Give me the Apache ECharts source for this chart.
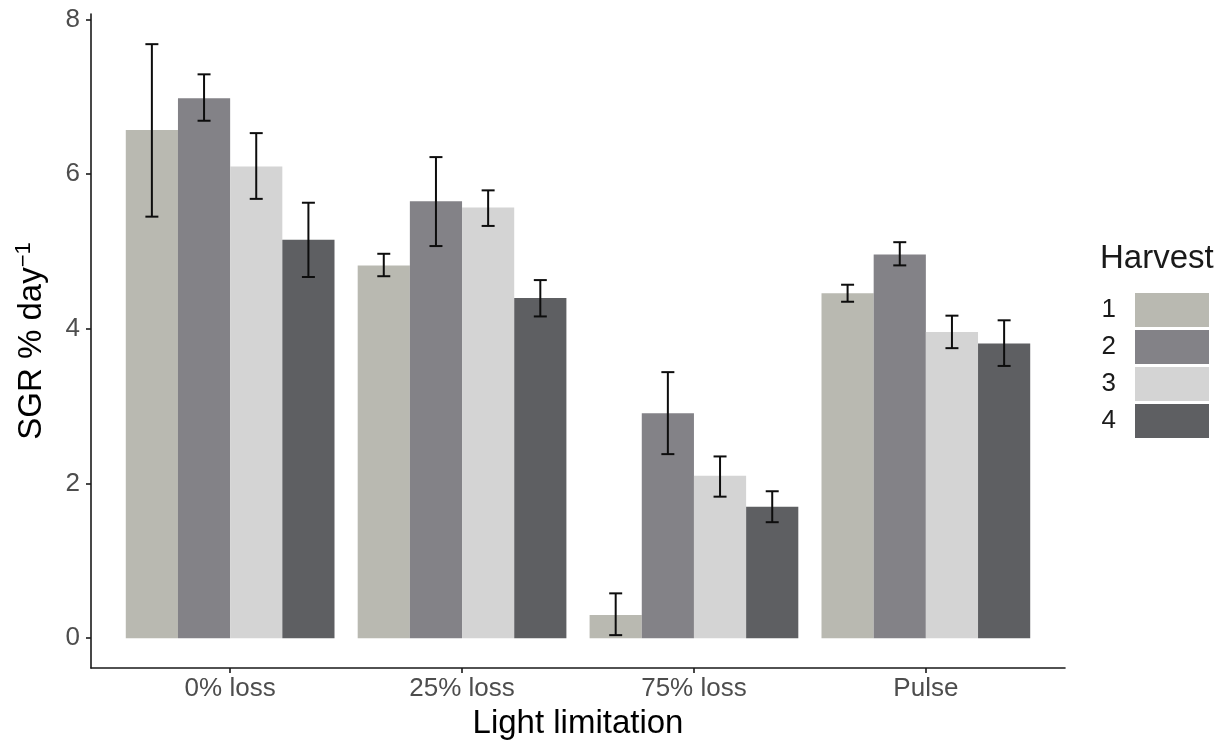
<!DOCTYPE html>
<html>
<head>
<meta charset="utf-8">
<script src="https://cdn.jsdelivr.net/npm/echarts@6/dist/echarts.min.js"></script>
<style>
  html, body { margin: 0; padding: 0; background: #ffffff; }
  #chart { width: 1231px; height: 747px; }
</style>
</head>
<body>
<div id="chart"></div>
<script>
// Light limitation treatments (x axis) and harvest groups (fill)
const categories = ['0% loss', '25% loss', '75% loss', 'Pulse'];
const harvests = ['1', '2', '3', '4'];
const harvestColors = ['#b9b9b1', '#838287', '#d4d4d4', '#5e5f62'];

// Mean specific growth rate (% day^-1), one row per harvest, one value per treatment
const sgrMean = [
  [6.57, 4.82, 0.30, 4.46],
  [6.98, 5.65, 2.91, 4.96],
  [6.10, 5.57, 2.10, 3.96],
  [5.15, 4.40, 1.70, 3.81]
];
// Lower and upper ends of the error bars
const sgrLow = [
  [5.45, 4.68, 0.04, 4.35],
  [6.69, 5.07, 2.38, 4.82],
  [5.68, 5.33, 1.83, 3.75],
  [4.67, 4.16, 1.50, 3.52]
];
const sgrHigh = [
  [7.68, 4.97, 0.58, 4.57],
  [7.29, 6.22, 3.44, 5.12],
  [6.53, 5.79, 2.35, 4.17],
  [5.63, 4.63, 1.90, 4.11]
];
const yTicks = [0, 2, 4, 6, 8];
const xTicks = [1, 2, 3, 4];

const FONT = 'Liberation Sans';
const dodgeWidth = 0.9;                 // width taken by one treatment group
const barWidth = dodgeWidth / harvests.length;
const capWidth = 0.056;                 // error bar cap width in axis units

function renderBar(params, api) {
  const k = params.seriesIndex;
  const cx = api.value(0) + (k - (harvests.length - 1) / 2) * barWidth;
  const topLeft = api.coord([cx - barWidth / 2, api.value(1)]);
  const bottomRight = api.coord([cx + barWidth / 2, 0]);
  const lo = api.coord([cx, api.value(2)]);
  const hi = api.coord([cx, api.value(3)]);
  const capHalf = api.size([capWidth, 0])[0] / 2;
  const errStyle = { stroke: '#0d0d0d', lineWidth: 2 };
  return {
    type: 'group',
    children: [
      {
        type: 'rect',
        shape: {
          x: topLeft[0], y: topLeft[1],
          width: bottomRight[0] - topLeft[0],
          height: bottomRight[1] - topLeft[1]
        },
        style: { fill: api.visual('color') }
      },
      { type: 'line', shape: { x1: lo[0], y1: hi[1], x2: lo[0], y2: lo[1] }, style: errStyle },
      { type: 'line', shape: { x1: lo[0] - capHalf, y1: hi[1], x2: lo[0] + capHalf, y2: hi[1] }, style: errStyle },
      { type: 'line', shape: { x1: lo[0] - capHalf, y1: lo[1], x2: lo[0] + capHalf, y2: lo[1] }, style: errStyle }
    ]
  };
}

const series = harvests.map((h, k) => ({
  name: h,
  type: 'custom',
  renderItem: renderBar,
  itemStyle: { color: harvestColors[k] },
  encode: { x: 0, y: [1, 2, 3] },
  data: categories.map((c, i) => [i + 1, sgrMean[k][i], sgrLow[k][i], sgrHigh[k][i]])
}));

const axisLineStyle = { color: '#1a1a1a', width: 1.6 };

const option = {
  animation: false,
  backgroundColor: '#ffffff',
  textStyle: { fontFamily: FONT },
  title: {
    text: 'Harvest',
    left: 1100,
    top: 242,
    padding: 0,
    textStyle: { fontFamily: FONT, fontSize: 33, fontWeight: 'normal', color: '#1a1a1a' }
  },
  legend: {
    data: harvests,
    orient: 'vertical',
    right: 22,
    top: 293,
    padding: 0,
    itemWidth: 74,
    itemHeight: 34,
    itemGap: 3,
    align: 'right',
    icon: 'rect',
    selectedMode: false,
    textStyle: { fontFamily: FONT, fontSize: 26, color: '#1a1a1a', padding: [0, 14, 0, 0] }
  },
  grid: { left: 91, right: 166, top: 14, bottom: 79 },
  xAxis: {
    type: 'value',
    min: 0.4,
    max: 4.6,
    splitLine: { show: false },
    axisLine: { show: true, onZero: false, lineStyle: axisLineStyle },
    axisTick: { show: true, length: 5, customValues: xTicks, lineStyle: axisLineStyle },
    axisLabel: {
      customValues: xTicks,
      formatter: v => categories[Math.round(v) - 1] || '',
      color: '#4d4d4d',
      fontSize: 26,
      margin: 8,
      fontFamily: FONT
    },
    name: 'Light limitation',
    nameLocation: 'middle',
    nameGap: 39,
    nameTextStyle: { fontFamily: FONT, fontSize: 33, color: '#000000' }
  },
  yAxis: {
    type: 'value',
    min: -0.385,
    max: 8.07,
    splitLine: { show: false },
    axisLine: { show: true, onZero: false, lineStyle: axisLineStyle },
    axisTick: { show: true, length: 5, customValues: yTicks, lineStyle: axisLineStyle },
    axisLabel: {
      customValues: yTicks,
      color: '#4d4d4d',
      fontSize: 26,
      margin: 11,
      fontFamily: FONT
    },
    name: '{a|SGR % day}{b|\u22121}',
    nameLocation: 'middle',
    nameGap: 40,
    nameTextStyle: {
      color: '#000000',
      rich: {
        a: { fontFamily: FONT, fontSize: 33, color: '#000000', lineHeight: 38 },
        b: { fontFamily: FONT, fontSize: 22, color: '#000000', lineHeight: 22, verticalAlign: 'top' }
      }
    }
  },
  series: series
};

const chart = echarts.init(document.getElementById('chart'), null, { renderer: 'canvas' });
chart.setOption(option);
</script>
</body>
</html>
